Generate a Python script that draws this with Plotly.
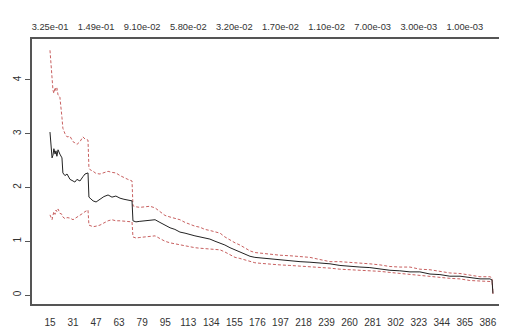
import plotly.graph_objects as go

# x position in bottom-label units (0 = first label "15")
x = [0, 0.04, 0.09, 0.13, 0.17, 0.22, 0.26, 0.30, 0.35, 0.43, 0.52, 0.56, 0.65, 0.74, 0.87,
     1.0, 1.08, 1.17, 1.30, 1.43, 1.52, 1.65, 1.69, 1.74, 1.87, 2.0, 2.17, 2.34, 2.52, 2.69,
     2.86, 3.04, 3.21, 3.38, 3.56, 3.60, 3.73, 3.90, 4.12, 4.34, 4.56, 4.77, 4.99, 5.21, 5.42,
     5.64, 5.86, 6.07, 6.29, 6.51, 6.72, 6.94, 7.16, 7.38, 7.59, 7.81, 8.03, 8.24, 8.46, 8.68,
     8.89, 9.11, 9.33, 9.54, 9.98, 10.41, 10.85, 11.28, 11.71, 12.15, 12.58, 13.02, 13.45,
     13.88, 14.32, 14.75, 15.18, 15.62, 16.05, 16.49, 16.92, 17.35, 17.79, 18.22, 18.66,
     19.09, 19.18, 19.22]

mean_vals = [3.03, 2.85, 2.55, 2.6, 2.72, 2.62, 2.68, 2.58, 2.7, 2.62, 2.55, 2.27, 2.22, 2.25, 2.15,
             2.12, 2.1, 2.15, 2.12, 2.2, 2.25, 2.27, 1.82, 1.8, 1.75, 1.73, 1.78, 1.83, 1.86, 1.82,
             1.84, 1.80, 1.78, 1.77, 1.75, 1.38, 1.36, 1.37, 1.38, 1.40, 1.40, 1.35, 1.30, 1.25, 1.22,
             1.17, 1.15, 1.12, 1.10, 1.08, 1.06, 1.04, 1.0, 0.97, 0.93, 0.88, 0.84, 0.80, 0.76, 0.72,
             0.70, 0.69, 0.68, 0.67, 0.65, 0.64, 0.62, 0.61, 0.60, 0.58, 0.55, 0.53, 0.52,
             0.51, 0.48, 0.46, 0.45, 0.43, 0.43, 0.39, 0.38, 0.35, 0.35, 0.32, 0.30,
             0.30, 0.28, 0.03]

upper_vals = [4.55, 4.3, 4.0, 3.81, 3.75, 3.86, 3.80, 3.85, 3.72, 3.68, 3.3, 3.1, 3.0, 2.94, 2.95,
              2.85, 2.83, 2.80, 2.85, 2.94, 2.90, 2.88, 2.36, 2.33, 2.30, 2.26, 2.25, 2.28, 2.30, 2.28,
              2.27, 2.22, 2.18, 2.15, 2.12, 1.66, 1.64, 1.63, 1.64, 1.65, 1.62, 1.55, 1.48, 1.45, 1.42,
              1.40, 1.35, 1.31, 1.28, 1.26, 1.22, 1.20, 1.18, 1.15, 1.08, 1.02, 0.97, 0.93, 0.88, 0.82,
              0.79, 0.78, 0.76, 0.75, 0.74, 0.73, 0.71, 0.70, 0.66, 0.62, 0.62, 0.61, 0.60,
              0.58, 0.56, 0.53, 0.52, 0.52, 0.48, 0.47, 0.44, 0.41, 0.40, 0.37, 0.34,
              0.34, 0.32, 0.04]

lower_vals = [1.49, 1.45, 1.40, 1.48, 1.55, 1.50, 1.58, 1.55, 1.60, 1.52, 1.50, 1.45, 1.42, 1.44, 1.43,
              1.40, 1.42, 1.45, 1.48, 1.52, 1.55, 1.58, 1.30, 1.29, 1.27, 1.28, 1.30, 1.34, 1.38, 1.40,
              1.38, 1.38, 1.37, 1.36, 1.36, 1.08, 1.06, 1.07, 1.08, 1.10, 1.10, 1.05, 1.00, 0.97, 0.95,
              0.93, 0.91, 0.89, 0.88, 0.87, 0.86, 0.86, 0.85, 0.84, 0.80, 0.75, 0.70, 0.68, 0.65, 0.62,
              0.60, 0.59, 0.58, 0.57, 0.56, 0.55, 0.54, 0.53, 0.52, 0.50, 0.48, 0.47, 0.47,
              0.46, 0.44, 0.42, 0.40, 0.38, 0.37, 0.35, 0.33, 0.31, 0.30, 0.27, 0.26,
              0.26, 0.25, 0.02]

bottom_labels = ["15", "31", "47", "63", "79", "95", "113", "134", "155", "176", "197",
                 "218", "239", "260", "281", "302", "323", "344", "365", "386"]
top_labels = ["3.25e-01", "1.49e-01", "9.10e-02", "5.80e-02", "3.20e-02",
              "1.70e-02", "1.10e-02", "7.00e-03", "3.00e-03", "1.00e-03"]
y_ticks = [0, 1, 2, 3, 4]

RED = "#c86060"
TXT = "#333333"

fig = go.Figure()
fig.add_trace(go.Scatter(x=x, y=upper_vals, mode="lines",
                         line=dict(color=RED, width=1, dash="3px,2px")))
fig.add_trace(go.Scatter(x=x, y=lower_vals, mode="lines",
                         line=dict(color=RED, width=1, dash="3px,2px")))
fig.add_trace(go.Scatter(x=x, y=mean_vals, mode="lines",
                         line=dict(color="#222222", width=1)))
# invisible trace to activate top axis
fig.add_trace(go.Scatter(x=[0], y=[0], xaxis="x2", mode="markers",
                         marker=dict(opacity=0), hoverinfo="skip"))

xr = [-0.78, 19.83]
fig.update_layout(
    width=499, height=326,
    margin=dict(l=24, r=0, t=31, b=30, autoexpand=False),
    paper_bgcolor="white", plot_bgcolor="white",
    showlegend=False,
    font=dict(family="Liberation Sans, Arial, sans-serif", size=10, color=TXT),
    xaxis=dict(range=xr, tickvals=list(range(len(bottom_labels))), ticktext=bottom_labels,
               ticks="", showgrid=False, zeroline=False, showline=True, mirror=True,
               linecolor="#555555", linewidth=1.5, ticklabelstandoff=8, automargin=False),
    xaxis2=dict(range=xr, overlaying="x", side="top",
                tickvals=[2 * i for i in range(len(top_labels))], ticktext=top_labels,
                tickfont=dict(size=9.3),
                ticks="", showgrid=False, zeroline=False, showline=False,
                ticklabelstandoff=6, automargin=False),
    yaxis=dict(range=[-0.167, 4.76], tickvals=y_ticks, ticktext=[str(v) for v in y_ticks],
               ticks="outside", ticklen=5, tickcolor="#555555", tickangle=-90,
               showgrid=False, zeroline=False, showline=True, linecolor="#555555",
               linewidth=1.5, ticklabelstandoff=0, automargin=False),
)

fig.write_html("out.html")
